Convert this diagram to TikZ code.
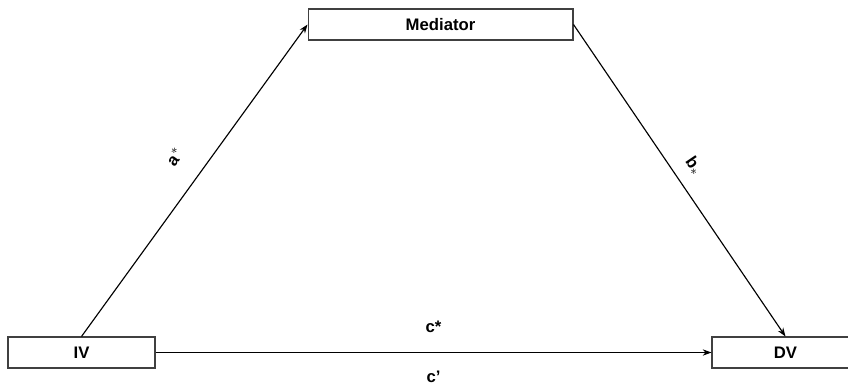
\documentclass[tikz,border=0pt]{standalone}
\usepackage{fontspec}
\setmainfont{Liberation Sans}
\usetikzlibrary{arrows.meta}

\begin{document}
\begin{tikzpicture}[x=0.02cm, y=-0.02cm,
	varbox/.style={draw=black!75, line width=0.6pt, minimum height=0.62cm, inner sep=0pt, font=\fontsize{9.5}{11}\selectfont\bfseries},
	path/.style={-{Stealth[length=5pt,width=3.6pt]}, line width=0.65pt},
	coef/.style={inner sep=0pt, font=\fontsize{9.5}{11}\selectfont\bfseries}]
	\useasboundingbox (0,0) rectangle (848,390);
	% the three variables
	\node[varbox, minimum width=5.3cm] (med) at (440.5,24.5) {Mediator};
	\node[varbox, minimum width=2.94cm] (iv) at (81.5,352.5) {IV};
	\node[varbox, minimum width=2.94cm] (dv) at (785.5,352.5) {DV};
	% indirect path
	\draw[path] (iv.north) -- (med.west) node[coef, sloped, pos=.52, above=0.46cm] {a$^*$};
	\draw[path] (med.east) -- (dv.north) node[coef, sloped, pos=.49, above=0.26cm] {b$_*$};
	% direct path
	\draw[path] (iv.east) -- (dv.west)
		node[coef, pos=.5, above=0.38cm] {c*}
		node[coef, pos=.5, below=0.36cm] {c'};
\end{tikzpicture}
\end{document}
